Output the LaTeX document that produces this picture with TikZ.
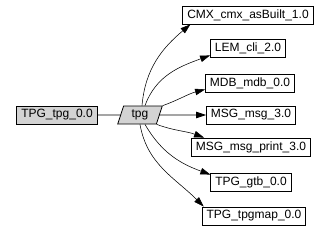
\documentclass[tikz,border=0pt]{standalone}
\usepackage{fontspec}
\setmainfont{Liberation Sans}
\usetikzlibrary{shapes.geometric,arrows.meta}

\definecolor{nodegray}{HTML}{D3D3D3}

\tikzset{
  pkg/.style={draw,thick,inner xsep=4.5pt,inner ysep=0pt,minimum height=18pt,
    font=\fontsize{12}{12}\selectfont},
  srcpkg/.style={pkg,fill=nodegray},
  modbox/.style={draw,thick,fill=nodegray,trapezium,trapezium left angle=72,
    trapezium right angle=108,inner xsep=1pt,inner ysep=0pt,minimum height=18pt,
    minimum width=32pt,font=\fontsize{12}{12}\selectfont},
  dep/.style={-{Triangle[length=10pt,width=6.5pt]},line width=0.55pt}
}

\begin{document}
\begin{tikzpicture}[x=1pt,y=1pt]
\useasboundingbox (0,0) rectangle (335,231);
% nodes
\node[srcpkg] (src) at (57,116) {TPG\_tpg\_0.0};
\node[modbox] (tpg) at (140,116) {tpg};
\node[pkg] (cmx) at (248,216) {CMX\_cmx\_asBuilt\_1.0};
\node[pkg] (lem) at (248,183) {LEM\_cli\_2.0};
\node[pkg] (mdb) at (250,148) {MDB\_mdb\_0.0};
\node[pkg] (msg) at (251,116) {MSG\_msg\_3.0};
\node[pkg] (msgp) at (251,84) {MSG\_msg\_print\_3.0};
\node[pkg] (gtb) at (251,49) {TPG\_gtb\_0.0};
\node[pkg] (tmap) at (254,15) {TPG\_tpgmap\_0.0};
% edges
\draw[line width=0.8pt] (src) -- (tpg);
\draw[dep] ([xshift=2pt]tpg.north) to[out=85,in=-140] ([xshift=8pt]cmx.south west);
\draw[dep] ([xshift=5pt]tpg.north) to[out=70,in=-160] ([yshift=2pt]lem.south west);
\draw[dep] (tpg.top right corner) to[out=20,in=-165] ([yshift=3pt]mdb.south west);
\draw[dep,line width=0.8pt] (tpg.east) -- (msg.west);
\draw[dep] (tpg.bottom right corner) to[out=-20,in=160] ([xshift=13pt]msgp.north west);
\draw[dep] ([xshift=5pt]tpg.south) to[out=-60,in=160] ([yshift=-2pt]gtb.north west);
\draw[dep] (tpg.south) to[out=-80,in=135] ([xshift=2pt]tmap.north west);
\end{tikzpicture}
\end{document}
